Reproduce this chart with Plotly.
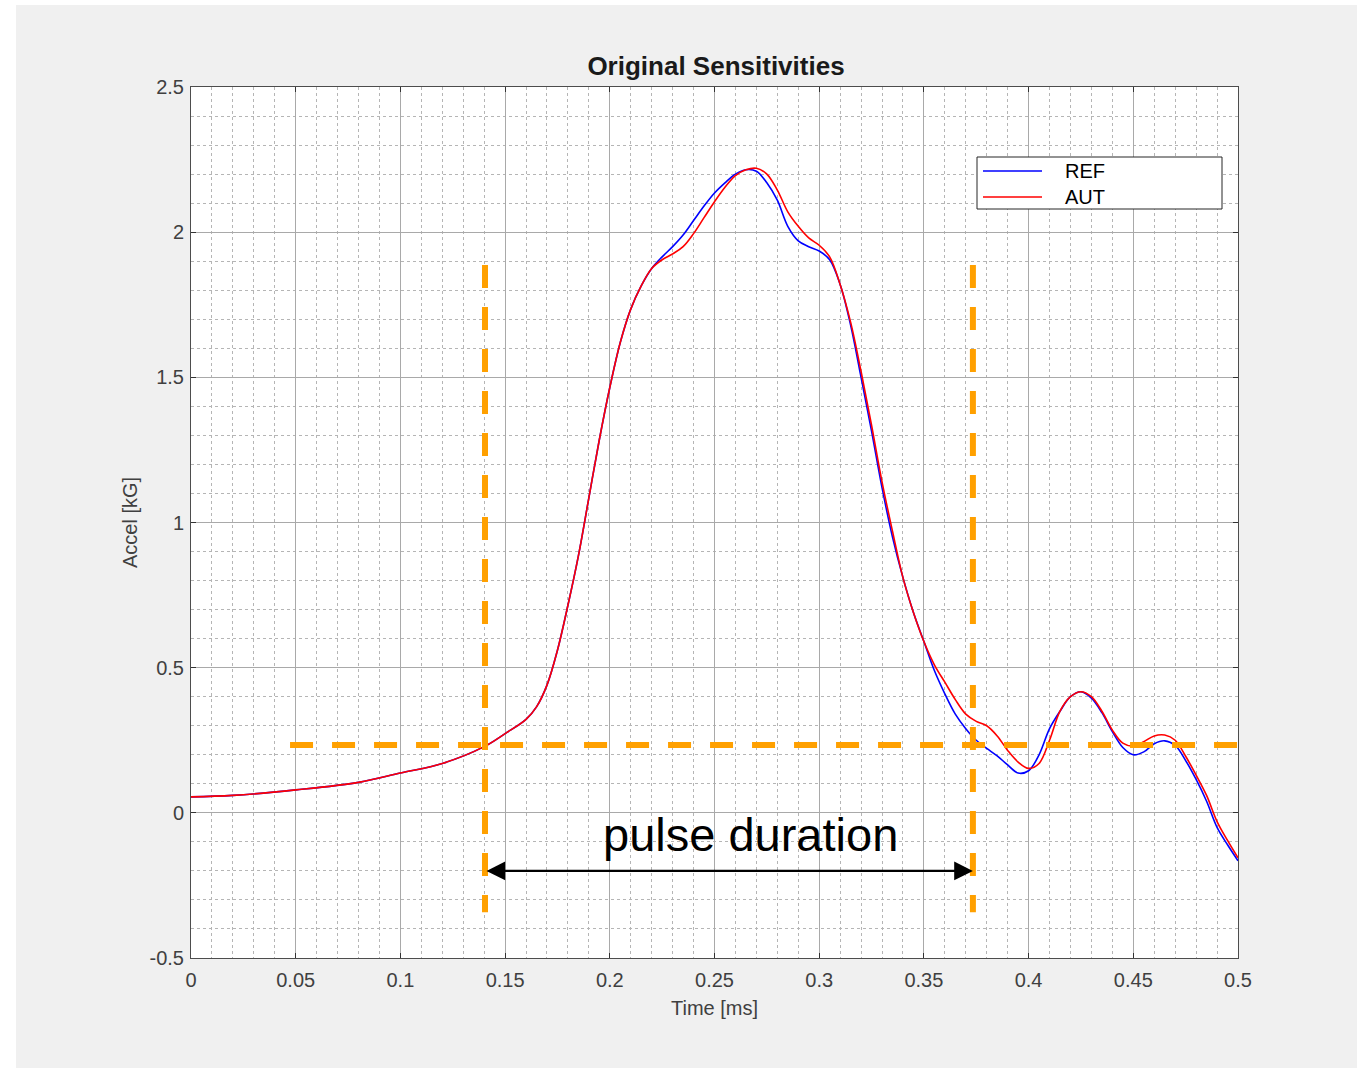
import plotly.graph_objects as go

# ---------------- data ----------------
time_ms = [0, 0.02, 0.05, 0.08, 0.1, 0.12, 0.14, 0.15, 0.16, 0.165, 0.17, 0.175, 0.18,
           0.185, 0.19, 0.195, 0.2, 0.205, 0.21, 0.215, 0.22, 0.225, 0.23, 0.235, 0.24,
           0.245, 0.25, 0.255, 0.26, 0.265, 0.27, 0.275, 0.28, 0.285, 0.29, 0.295, 0.3,
           0.305, 0.31, 0.315, 0.32, 0.325, 0.33, 0.335, 0.34, 0.345, 0.35, 0.355, 0.36,
           0.365, 0.37, 0.375, 0.38, 0.385, 0.39, 0.395, 0.4, 0.405, 0.41, 0.415, 0.42,
           0.425, 0.43, 0.435, 0.44, 0.445, 0.45, 0.455, 0.46, 0.465, 0.47, 0.475, 0.48,
           0.485, 0.49, 0.495, 0.5]

ref_accel = [0.055, 0.060, 0.079, 0.105, 0.137, 0.170, 0.228, 0.273, 0.322, 0.365, 0.44, 0.56, 0.715,
             0.885, 1.085, 1.285, 1.465, 1.62, 1.735, 1.815, 1.875, 1.915, 1.95, 1.99, 2.04,
             2.09, 2.135, 2.17, 2.20, 2.215, 2.21, 2.17, 2.11, 2.02, 1.97, 1.95, 1.935,
             1.905, 1.82, 1.68, 1.50, 1.315, 1.12, 0.95, 0.81, 0.69, 0.59, 0.49, 0.41,
             0.34, 0.29, 0.25, 0.222, 0.196, 0.165, 0.137, 0.145, 0.20, 0.29, 0.35, 0.40,
             0.417, 0.395, 0.345, 0.28, 0.225, 0.20, 0.21, 0.238, 0.248, 0.232, 0.18, 0.115,
             0.04, -0.05, -0.11, -0.165]

aut_accel = [0.055, 0.060, 0.079, 0.105, 0.137, 0.170, 0.228, 0.273, 0.322, 0.365, 0.44, 0.56, 0.715,
             0.885, 1.085, 1.285, 1.465, 1.62, 1.735, 1.815, 1.875, 1.905, 1.925, 1.95, 1.995,
             2.05, 2.105, 2.155, 2.195, 2.215, 2.22, 2.20, 2.145, 2.07, 2.02, 1.98, 1.955,
             1.915, 1.82, 1.69, 1.52, 1.335, 1.14, 0.97, 0.81, 0.69, 0.59, 0.51, 0.45,
             0.39, 0.34, 0.315, 0.30, 0.265, 0.215, 0.175, 0.153, 0.17, 0.25, 0.35, 0.40,
             0.417, 0.40, 0.35, 0.285, 0.24, 0.23, 0.245, 0.265, 0.268, 0.25, 0.195, 0.13,
             0.06, -0.03, -0.095, -0.155]

series_names = ["REF", "AUT"]
series_colors = ["#0000ff", "#ff0000"]

x_ticks = [0, 0.05, 0.1, 0.15, 0.2, 0.25, 0.3, 0.35, 0.4, 0.45, 0.5]
x_tick_labels = ["0", "0.05", "0.1", "0.15", "0.2", "0.25", "0.3", "0.35", "0.4", "0.45", "0.5"]
y_ticks = [-0.5, 0, 0.5, 1, 1.5, 2, 2.5]
y_tick_labels = ["-0.5", "0", "0.5", "1", "1.5", "2", "2.5"]

pulse_start = 0.1404
pulse_end = 0.3734
threshold = 0.234
marker_top = 1.887
marker_bottom = -0.342
threshold_x_start = 0.0473
arrow_level = -0.2
label_pos = (0.267, -0.076)

FONT = "Liberation Sans, Arial, Helvetica, sans-serif"

# plot-area geometry in page pixels (used only to place the boxed legend / page border)
PL, PR, PT, PB = 191, 1238, 87, 958
W, H = 1357, 1070


def px_x(p):
    return (p - PL) / (PR - PL)


def px_y(p):
    return (PB - p) / (PB - PT)


fig = go.Figure()
for name, vals, col in zip(series_names, [ref_accel, aut_accel], series_colors):
    fig.add_trace(go.Scatter(x=time_ms, y=vals, mode="lines", name=name, showlegend=False,
                             line=dict(color=col, width=1.6, shape="spline", smoothing=1.0)))

orange = "#ffa000"
dash = "23px,19px"
for xv in (pulse_start, pulse_end):
    fig.add_shape(type="line", xref="x", yref="y", x0=xv, x1=xv, y0=marker_top, y1=marker_bottom,
                  line=dict(color=orange, width=6, dash=dash), layer="above")
fig.add_shape(type="line", xref="x", yref="y", x0=threshold_x_start, x1=0.5, y0=threshold, y1=threshold,
              line=dict(color=orange, width=6, dash=dash), layer="above")

# double-headed arrow
fig.add_annotation(x=pulse_end, y=arrow_level, ax=pulse_start, ay=arrow_level,
                   xref="x", yref="y", axref="x", ayref="y", text="", showarrow=True,
                   arrowhead=2, startarrowhead=2, arrowside="end+start", arrowsize=1.7,
                   startarrowsize=1.7, arrowwidth=2.2, arrowcolor="#000000", standoff=0, startstandoff=0)
fig.add_annotation(x=label_pos[0], y=label_pos[1], xref="x", yref="y", text="pulse duration",
                   showarrow=False, font=dict(family=FONT, size=47, color="#000000"),
                   xanchor="center", yanchor="middle")

# thin white page border around the gray figure panel (outside the plot area)
white_strips = [(0, W, 0, 5), (0, 16, 0, H), (0, W, 1068, H)]
for x0p, x1p, y0p, y1p in white_strips:
    fig.add_shape(type="rect", xref="paper", yref="paper",
                  x0=px_x(x0p), x1=px_x(x1p), y0=px_y(y1p), y1=px_y(y0p),
                  line=dict(width=0), fillcolor="#ffffff", layer="below")

# boxed legend (MATLAB style)
fig.add_shape(type="rect", xref="paper", yref="paper",
              x0=px_x(977), x1=px_x(1222), y0=px_y(209), y1=px_y(157),
              line=dict(color="#262626", width=1), fillcolor="#ffffff", layer="above")
for i, (name, col) in enumerate(zip(series_names, series_colors)):
    yy = px_y(171 + 26 * i)
    fig.add_shape(type="line", xref="paper", yref="paper", x0=px_x(983), x1=px_x(1042),
                  y0=yy, y1=yy, line=dict(color=col, width=1.3), layer="above")
    fig.add_annotation(x=px_x(1063), y=yy, xref="paper", yref="paper", text=name,
                       showarrow=False, xanchor="left", yanchor="middle",
                       font=dict(family=FONT, size=20, color="#000000"))

axis_common = dict(
    showline=True, linecolor="#4d4d4d", linewidth=1, mirror="ticks",
    ticks="inside", ticklen=5, tickcolor="#333333", tickwidth=1,
    showgrid=True, gridcolor="#a9a9a9", gridwidth=1, zeroline=False,
    tickfont=dict(family=FONT, size=20, color="#404040"),
    title_font=dict(family=FONT, size=20, color="#404040"),
)

fig.update_xaxes(range=[0, 0.5], tickmode="array", tickvals=x_ticks, ticktext=x_tick_labels,
                 minor=dict(dtick=0.01, tick0=0, showgrid=True, gridcolor="#b5b5b5", griddash="dot", gridwidth=1),
                 title=dict(text="Time [ms]", standoff=10), ticklabelstandoff=4, **axis_common)
fig.update_yaxes(range=[-0.5, 2.5], tickmode="array", tickvals=y_ticks, ticktext=y_tick_labels,
                 minor=dict(dtick=0.1, tick0=0, showgrid=True, gridcolor="#b5b5b5", griddash="dot", gridwidth=1),
                 title=dict(text="Accel [kG]", standoff=6), ticklabelstandoff=2, **axis_common)

fig.update_layout(
    width=W, height=H,
    margin=dict(l=PL, r=W - PR, t=PT, b=H - PB, autoexpand=False),
    paper_bgcolor="#f0f0f0", plot_bgcolor="#ffffff",
    title=dict(text="<b>Original Sensitivities</b>", x=716 / W, xanchor="center",
               y=1 - 66 / H, yanchor="middle", yref="container",
               font=dict(family=FONT, size=26, color="#1a1a1a")),
    showlegend=False,
)

fig.write_html("out.html")
